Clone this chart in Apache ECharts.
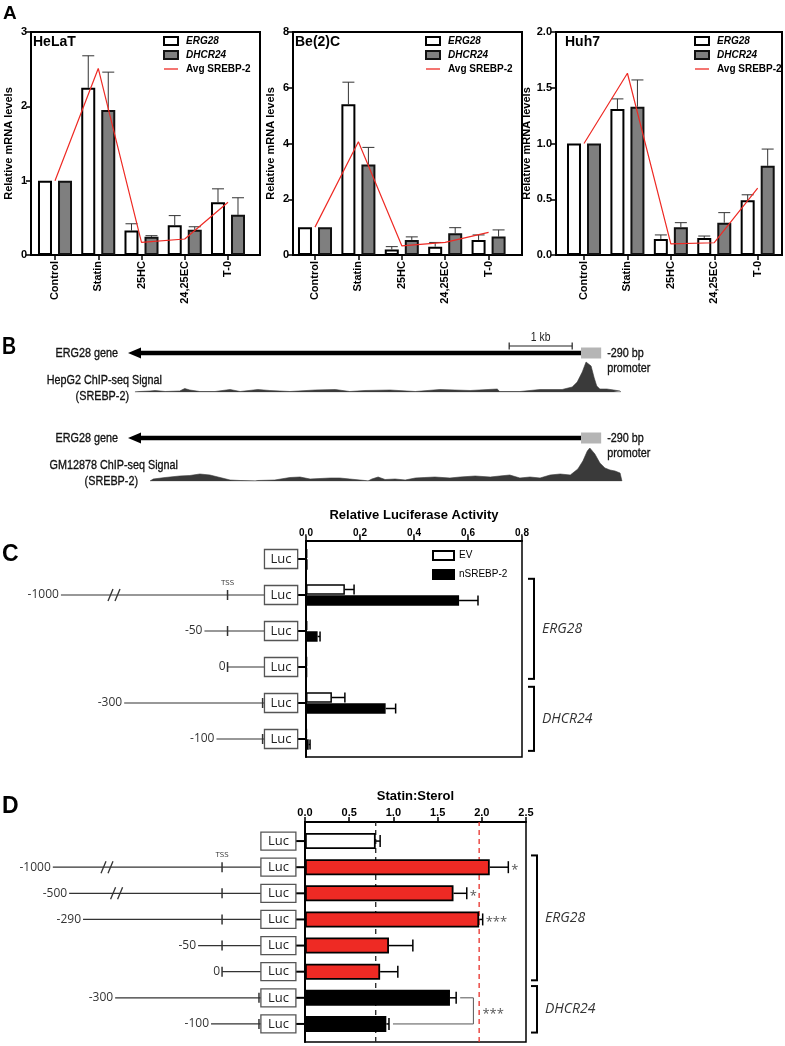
<!DOCTYPE html>
<html><head><meta charset="utf-8">
<script src="https://cdn.jsdelivr.net/npm/echarts@6/dist/echarts.min.js"></script>
<style>html,body{margin:0;padding:0;background:#fff}#c{width:785px;height:1046px}</style>
</head><body><div id="c"></div>
<script>
// ================= DATA =================
// Panel A
const conditions = ['Control', 'Statin', '25HC', '24,25EC', 'T-0'];
const helaErg28 = [1.00, 2.25, 0.33, 0.40, 0.71];
const helaErg28Sem = [0, 0.43, 0.09, 0.13, 0.18];
const helaDhcr24 = [1.00, 1.95, 0.245, 0.34, 0.54];
const helaDhcr24Sem = [0, 0.51, 0.015, 0.04, 0.23];
const helaSrebp2 = [1.00, 2.51, 0.17, 0.215, 0.71];

const be2cErg28 = [1.00, 5.41, 0.20, 0.30, 0.54];
const be2cErg28Sem = [0, 0.79, 0.10, 0.15, 0.18];
const be2cDhcr24 = [1.00, 3.25, 0.54, 0.78, 0.66];
const be2cDhcr24Sem = [0, 0.61, 0.11, 0.20, 0.24];
const be2cSrebp2 = [1.00, 4.06, 0.33, 0.45, 0.81];

const huh7Erg28 = [1.00, 1.31, 0.144, 0.153, 0.49];
const huh7Erg28Sem = [0, 0.09, 0.036, 0.017, 0.05];
const huh7Dhcr24 = [1.00, 1.33, 0.25, 0.29, 0.80];
const huh7Dhcr24Sem = [0, 0.24, 0.04, 0.09, 0.15];
const huh7Srebp2 = [1.00, 1.63, 0.10, 0.11, 0.60];

// Panel B (positions in kb relative to the ERG28 TSS; signal in arbitrary units)
const geneStartKb = -7.19, geneEndKb = 0, promoterEndKb = 0.32;
const scaleBarKb = [-1.14, -0.14];
const hepg2Kb = [-7.08,-7.00,-6.84,-6.76,-6.60,-6.37,-6.29,-6.21,-6.05,-5.81,-5.57,-5.41,-5.13,-4.94,-4.62,-4.22,-3.90,-3.67,-3.43,-3.03,-2.63,-2.24,-1.76,-1.33,-1.29,-0.97,-0.65,-0.30,-0.14,-0.06,0.02,0.08,0.11,0.16,0.21,0.25,0.30,0.41,0.52,0.62,0.63];
const hepg2Signal = [0,0.5,1,1.5,0.5,1,3.5,2,0.5,0.5,2.5,0.5,2.5,1.5,0.5,2,2.5,0.5,1.5,2,0.5,2.5,1.5,3,0.5,0.5,2.5,2.5,5,10,20,30,32,26,14,6,3,3,2,1,0];
const gm12878Kb = [-6.84,-6.79,-6.60,-6.37,-6.21,-6.05,-5.89,-5.73,-5.57,-5.41,-5.17,-5.13,-4.86,-4.62,-4.46,-4.30,-3.98,-3.83,-3.67,-3.43,-3.38,-3.32,-3.22,-3.11,-2.95,-2.79,-2.63,-2.48,-2.32,-2.08,-1.92,-1.68,-1.44,-1.29,-1.13,-0.97,-0.81,-0.65,-0.49,-0.33,-0.17,-0.05,0.03,0.10,0.14,0.22,0.30,0.38,0.46,0.54,0.62,0.65];
const gm12878Signal = [0,2,3.5,5,5.5,7,6,3.5,1,0.5,0,0.5,1,3.5,4,2,3,3,2,0.5,0,2,4,1.5,2,1,3,3.5,4,3,4,5,4,5,6,3,4,3,6,7,6,12,20,30,33,27,18,13,11,10,8,0];

// Panel C (luciferase)
const cRowNames = ['EV', 'ERG28 -1000', 'ERG28 -50', 'ERG28 0', 'DHCR24 -300', 'DHCR24 -100'];
const cLabels = ['', '-1000', '-50', '0', '-300', '-100'];
const lucEV = [0.005, 0.144, 0.005, 0.004, 0.096, 0.003];
const lucEVSem = [0, 0.034, 0, 0, 0.048, 0];
const lucN2 = [0.006, 0.567, 0.043, 0.004, 0.295, 0.010];
const lucN2Sem = [0, 0.070, 0.009, 0, 0.037, 0.005];
const cPromoterBp = [null, -1000, -50, 0, -300, -100];
const cTssBp = [null, -80, -80, -80, -4, -4];
const cDrawnStartBp = [null, -441, null, null, null, null];
const cBreakBp = [null, -326, null, null, null, null];
const cTssLabel = [false, true, false, false, false, false];
const cGroups = [{name: 'ERG28', from: 1, to: 3}, {name: 'DHCR24', from: 4, to: 5}];

// Panel D (statin:sterol)
const dRowNames = ['EV', 'ERG28 -1000', 'ERG28 -500', 'ERG28 -290', 'ERG28 -50', 'ERG28 0', 'DHCR24 -300', 'DHCR24 -100'];
const dLabels = ['', '-1000', '-500', '-290', '-50', '0', '-300', '-100'];
const statinSterol = [0.80, 2.09, 1.68, 1.97, 0.95, 0.85, 1.64, 0.92];
const statinSterolSem = [0.05, 0.21, 0.15, 0.04, 0.27, 0.20, 0.07, 0.03];
const dKind = ['ev', 'erg', 'erg', 'erg', 'erg', 'erg', 'dhcr', 'dhcr'];
const dSignif = ['', '*', '*', '***', '', '', '', ''];
const dPromoterBp = [null, -1000, -500, -290, -50, 0, -300, -100];
const dTssBp = [null, -81, -81, -81, -81, -81, -4, -4];
const dDrawnStartBp = [null, -434, -400, null, null, null, null, null];
const dBreakBp = [null, -321, -301, null, null, null, null, null];
const dTssLabel = [false, true, false, false, false, false, false, false];
const dGroups = [{name: 'ERG28', from: 1, to: 5}, {name: 'DHCR24', from: 6, to: 7}];
const dPair = {from: 6, to: 7, x: 1.905, label: '***'};

// ================= STYLE HELPERS =================
const FONT = "'Liberation Sans', Arial, sans-serif";
const NARROW = "'Liberation Sans Narrow', 'Liberation Sans', sans-serif";
const NARROW_SCALE = 0.8;
const OPEN = "'Open Sans', 'Liberation Sans', sans-serif";
const RED = '#ee2a24';

function ln(x1, y1, x2, y2, stroke, w, dash) {
  return {type: 'line', shape: {x1, y1, x2, y2}, style: {stroke, lineWidth: w, lineDash: dash || null}};
}
function tx(x, y, text, font, fill, align, valign, sx, heavy) {
  const st = {text, font, fill: fill || '#000', align: align || 'left', verticalAlign: valign || 'middle', textAlign: align || 'left', textVerticalAlign: valign || 'middle'};
  if (heavy) { st.stroke = fill || '#000'; st.lineWidth = 0.35; }
  return {type: 'text', x, y, scaleX: sx || 1, style: st};
}

const option = {
  animation: false,
  backgroundColor: '#fff',
  textStyle: {fontFamily: FONT},
  title: [], legend: [], grid: [], xAxis: [], yAxis: [], series: [], graphic: []
};

// ================= PANEL A =================
const aCharts = [
  {title: 'HeLaT', erg: helaErg28, ergSem: helaErg28Sem, dh: helaDhcr24, dhSem: helaDhcr24Sem, avg: helaSrebp2,
   yMax: 3, yInt: 1, dec: 0, left: 31, width: 229, xMin: -0.555, xMax: 4.74, titleLeft: 33, legendLeft: 163, nameGap: 17},
  {title: 'Be(2)C', erg: be2cErg28, ergSem: be2cErg28Sem, dh: be2cDhcr24, dhSem: be2cDhcr24Sem, avg: be2cSrebp2,
   yMax: 8, yInt: 2, dec: 0, left: 293, width: 229, xMin: -0.507, xMax: 4.77, titleLeft: 295, legendLeft: 425, nameGap: 17},
  {title: 'Huh7', erg: huh7Erg28, ergSem: huh7Erg28Sem, dh: huh7Dhcr24, dhSem: huh7Dhcr24Sem, avg: huh7Srebp2,
   yMax: 2, yInt: 0.5, dec: 1, left: 556, width: 226, xMin: -0.645, xMax: 4.56, titleLeft: 565, legendLeft: 694, nameGap: 24}
];
const idx = [0, 1, 2, 3, 4];

function vErr(offset) {
  return function (params, api) {
    const i = api.value(0), m = api.value(1), s = api.value(2);
    if (!s) return null;
    const p0 = api.coord([i, m]), p1 = api.coord([i, m + s]);
    const x = p0[0] + offset;
    return {type: 'group', children: [
      ln(x, p0[1], x, p1[1], '#333', 1),
      ln(x - 6, p1[1], x + 6, p1[1], '#333', 1)
    ]};
  };
}

aCharts.forEach((c, g) => {
  option.grid.push({left: c.left, top: 32, width: c.width, height: 223, show: true, borderColor: '#000', borderWidth: 2, outerBoundsMode: 'none'});
  option.xAxis.push({gridIndex: g, type: 'value', min: c.xMin, max: c.xMax,
    axisLine: {show: true, onZero: false, lineStyle: {color: '#000', width: 2}},
    axisTick: {show: true, customValues: idx, length: 5, lineStyle: {color: '#000', width: 1.5}},
    axisLabel: {show: true, customValues: idx, formatter: v => conditions[Math.round(v)], rotate: 90, fontWeight: 'bold', fontSize: 11, color: '#000', margin: 6, fontFamily: FONT},
    splitLine: {show: false}});
  option.yAxis.push({gridIndex: g, type: 'value', min: 0, max: c.yMax, interval: c.yInt,
    axisLine: {show: true, onZero: false, lineStyle: {color: '#000', width: 2}},
    axisTick: {show: true, length: 5, lineStyle: {color: '#000', width: 1.5}},
    axisLabel: {fontWeight: 'bold', fontSize: 11, color: '#000', margin: 4, fontFamily: FONT, formatter: v => v.toFixed(c.dec)},
    splitLine: {show: false},
    name: 'Relative mRNA levels', nameLocation: 'middle', nameGap: c.nameGap,
    nameTextStyle: {fontWeight: 'bold', fontSize: 11, color: '#000', fontFamily: FONT}});
  option.title.push({text: c.title, left: c.titleLeft, top: 35, padding: 0, textStyle: {fontSize: 14, fontWeight: 'bold', color: '#000', fontFamily: FONT}});
  option.legend.push({left: c.legendLeft, top: 35, orient: 'vertical', padding: 0, itemGap: 2, itemWidth: 14, itemHeight: 8, selectedMode: false,
    textStyle: {fontSize: 10, fontWeight: 'bold', color: '#000', fontFamily: FONT, lineHeight: 12, padding: [0, 0, 0, 3]},
    data: [{name: 'ERG28', icon: 'rect', textStyle: {fontStyle: 'italic'}},
           {name: 'DHCR24', icon: 'rect', textStyle: {fontStyle: 'italic'}},
           {name: 'Avg SREBP-2', icon: 'path://M0,0 H14 V1.3 H0 Z', itemStyle: {color: RED, borderWidth: 0}}]});
  option.series.push(
    {type: 'bar', name: 'ERG28', xAxisIndex: g, yAxisIndex: g, barWidth: 14, barGap: '43%',
     itemStyle: {color: '#fff', borderColor: '#000', borderWidth: 2}, data: c.erg.map((v, i) => [i, v])},
    {type: 'bar', name: 'DHCR24', xAxisIndex: g, yAxisIndex: g, barWidth: 14, barGap: '43%',
     itemStyle: {color: '#7f7f7f', borderColor: '#111', borderWidth: 2}, data: c.dh.map((v, i) => [i, v])},
    {type: 'custom', name: 'errA1_' + g, xAxisIndex: g, yAxisIndex: g, renderItem: vErr(-10), clip: false, z: 1,
     data: c.erg.map((v, i) => [i, v, c.ergSem[i]])},
    {type: 'custom', name: 'errA2_' + g, xAxisIndex: g, yAxisIndex: g, renderItem: vErr(10), clip: false, z: 1,
     data: c.dh.map((v, i) => [i, v, c.dhSem[i]])},
    {type: 'line', name: 'Avg SREBP-2', xAxisIndex: g, yAxisIndex: g, symbol: 'none', z: 5,
     lineStyle: {color: RED, width: 1.2}, itemStyle: {color: RED}, data: c.avg.map((v, i) => [i, v])}
  );
});

// ================= PANEL B =================
const bLeft = 108.5, bWidth = 535.5, bMin = -7.5, bMax = 1.0;
const bRows = [
  {geneTop: 333, sigTop: 352, kb: hepg2Kb, sig: hepg2Signal, scale: true},
  {geneTop: 418, sigTop: 441, kb: gm12878Kb, sig: gm12878Signal, scale: false}
];
function geneRender(withScale) {
  return function (params, api) {
    const y = api.coord([0, 0.5])[1];
    const xTip = api.coord([geneStartKb, 0.5])[0];
    const xEnd = api.coord([geneEndKb, 0.5])[0];
    const xProm = api.coord([promoterEndKb, 0.5])[0];
    const f = '13.5px ' + NARROW;
    const ch = [
      ln(xTip + 10, y, xEnd, y, '#000', 4.5),
      {type: 'polygon', shape: {points: [[xTip, y], [xTip + 13, y - 5.5], [xTip + 13, y + 5.5]]}, style: {fill: '#000'}},
      {type: 'rect', shape: {x: xEnd, y: y - 5.5, width: xProm - xEnd, height: 11}, style: {fill: '#b5b5b5'}},
      tx(xTip - 10, y, 'ERG28 gene', f, '#111', 'right', 'middle', NARROW_SCALE, true),
      tx(xProm + 6, y, '-290 bp', f, '#111', 'left', 'middle', NARROW_SCALE, true),
      tx(xProm + 6, y + 15, 'promoter', f, '#111', 'left', 'middle', NARROW_SCALE, true)
    ];
    if (withScale) {
      const ys = api.coord([0, 0.675])[1];
      const a = api.coord([scaleBarKb[0], 0.675])[0], b = api.coord([scaleBarKb[1], 0.675])[0];
      ch.push(ln(a, ys, b, ys, '#222', 1.2), ln(a, ys - 3.5, a, ys + 3.5, '#222', 1.2), ln(b, ys - 3.5, b, ys + 3.5, '#222', 1.2),
        tx((a + b) / 2, ys - 2, '1 kb', '13px ' + NARROW, '#222', 'center', 'bottom', NARROW_SCALE));
    }
    return {type: 'group', children: ch};
  };
}
bRows.forEach((r, k) => {
  const gGene = option.grid.length;
  option.grid.push({left: bLeft, width: bWidth, top: r.geneTop, height: 40, outerBoundsMode: 'none'});
  option.xAxis.push({gridIndex: gGene, type: 'value', min: bMin, max: bMax, show: false});
  option.yAxis.push({gridIndex: gGene, type: 'value', min: 0, max: 1, show: false});
  option.series.push({type: 'custom', name: 'gene' + k, xAxisIndex: gGene, yAxisIndex: gGene, clip: false,
    renderItem: geneRender(r.scale), data: [[geneStartKb, 0.5]]});
  const gSig = option.grid.length;
  option.grid.push({left: bLeft, width: bWidth, top: r.sigTop, height: 40, outerBoundsMode: 'none'});
  option.xAxis.push({gridIndex: gSig, type: 'value', min: bMin, max: bMax, show: false});
  option.yAxis.push({gridIndex: gSig, type: 'value', min: 0, max: 40, show: false});
  option.series.push(
    {type: 'line', name: 'base' + k, xAxisIndex: gSig, yAxisIndex: gSig, symbol: 'none', z: 1,
     lineStyle: {color: '#9a9a9a', width: 1}, data: [[r.kb[0], 0], [r.kb[r.kb.length - 1], 0]]},
    {type: 'line', name: 'chip' + k, xAxisIndex: gSig, yAxisIndex: gSig, symbol: 'none', z: 2,
     lineStyle: {color: '#3a3a3a', width: 0.6}, areaStyle: {color: '#3a3a3a', opacity: 1},
     data: r.kb.map((x, i) => [x, r.sig[i]])}
  );
});
const bf = '13.5px ' + NARROW;
function gtext(x, y, text) {
  return {type: 'text', x, y, scaleX: NARROW_SCALE, style: {text, font: bf, fill: '#111', stroke: '#111', lineWidth: 0.35, align: 'right', verticalAlign: 'middle'}};
}
option.graphic.push(
  {type: 'text', x: 2, y: 336, scaleX: 0.85, style: {text: 'B', font: 'bold 23px ' + FONT, fill: '#000'}},
  gtext(162, 380, 'HepG2 ChIP-seq Signal'),
  gtext(129, 396, '(SREBP-2)'),
  gtext(178, 465, 'GM12878 ChIP-seq Signal'),
  gtext(138, 481, '(SREBP-2)'),
  {type: 'text', left: 3, top: 4, style: {text: 'A', font: 'bold 19px ' + FONT, fill: '#000'}},
  {type: 'text', left: 2, top: 543, style: {text: 'C', font: 'bold 23px ' + FONT, fill: '#000'}},
  {type: 'text', left: 2, top: 795, style: {text: 'D', font: 'bold 23px ' + FONT, fill: '#000'}}
);

// ================= shared renderers for C / D =================
function constructRenderer(spec) {
  return function (params, api) {
    const i = params.dataIndex;
    const cs = params.coordSys;
    const y = api.coord([0, i])[1];
    const xb0 = api.coord([0, i])[0];
    const xb1 = api.coord([spec.lucLen, i])[0];
    const axisX = cs.x + cs.width;
    const ch = [ln(xb1, y, axisX, y, '#000', 2)];
    if (spec.promoter[i] !== null) {
      const startBp = spec.drawnStart[i] !== null ? spec.drawnStart[i] : spec.tss[i] + spec.promoter[i];
      const xs = api.coord([startBp, i])[0];
      ch.push(ln(xs, y, xb0, y, '#333', 1.2));
      const xt = api.coord([spec.tss[i], i])[0];
      ch.push(ln(xt, y - 5, xt, y + 5, '#333', 1.5));
      if (spec.breaks[i] !== null) {
        const xk = api.coord([spec.breaks[i], i])[0];
        ch.push(ln(xk - 6, y + 6, xk - 1, y - 6, '#333', 1.3), ln(xk + 1, y + 6, xk + 6, y - 6, '#333', 1.3));
      }
      if (spec.tssLabel[i]) ch.push(tx(xt, y - 8, 'TSS', '8px ' + OPEN, '#333', 'center', 'bottom'));
      ch.push(tx(xs - 2, y, spec.labels[i], '12px ' + OPEN, '#333', 'right', 'middle'));
    }
    ch.push({type: 'rect', shape: {x: xb0, y: y - spec.boxH / 2, width: xb1 - xb0, height: spec.boxH}, style: {fill: '#fff', stroke: '#555', lineWidth: 1.3}});
    ch.push(tx((xb0 + xb1) / 2, y, 'Luc', '13px ' + OPEN, '#222', 'center', 'middle'));
    return {type: 'group', children: ch};
  };
}
function bracketRenderer(groups, dx, fontSize) {
  return function (params, api) {
    const gr = groups[params.dataIndex];
    const cs = params.coordSys;
    const band = Math.abs(api.coord([0, 1])[1] - api.coord([0, 0])[1]);
    const top = api.coord([0, gr.from])[1] - 0.45 * band;
    const bot = api.coord([0, gr.to])[1] + 0.33 * band;
    const x = cs.x + dx;
    return {type: 'group', children: [
      ln(x, top, x, bot, '#000', 2),
      ln(x - 6, top, x + 1, top, '#000', 2),
      ln(x - 6, bot, x + 1, bot, '#000', 2),
      tx(x + 8, (top + bot) / 2, gr.name, 'italic ' + fontSize + 'px ' + OPEN, '#333', 'left', 'middle')
    ]};
  };
}
function hErr(offset, cap, w) {
  return function (params, api) {
    const r = api.value(1), m = api.value(0), s = api.value(2);
    if (!s) return null;
    const p0 = api.coord([m, r]), p1 = api.coord([m + s, r]);
    const y = p0[1] + offset;
    return {type: 'group', children: [ln(p0[0], y, p1[0], y, '#000', w), ln(p1[0], y - cap / 2, p1[0], y + cap / 2, '#000', w)]};
  };
}

// ================= PANEL C =================
const gC = option.grid.length;
option.grid.push({left: 306, top: 541, width: 216, height: 216, show: true, borderColor: '#000', borderWidth: 1.5, outerBoundsMode: 'none'});
option.xAxis.push({gridIndex: gC, type: 'value', min: 0, max: 0.8, interval: 0.2, position: 'top',
  axisLine: {show: true, onZero: false, lineStyle: {color: '#000', width: 2}},
  axisTick: {show: true, length: 5, inside: false, lineStyle: {color: '#000', width: 1.5}},
  axisLabel: {fontSize: 10, fontWeight: 'bold', color: '#000', margin: 3, formatter: v => v.toFixed(1), fontFamily: FONT},
  splitLine: {show: false},
  name: 'Relative Luciferase Activity', nameLocation: 'middle', nameGap: 19,
  nameTextStyle: {fontSize: 13, fontWeight: 'bold', color: '#000', fontFamily: FONT}});
option.yAxis.push({gridIndex: gC, type: 'category', data: cRowNames, inverse: true,
  axisLine: {show: true, onZero: false, lineStyle: {color: '#000', width: 2}}, axisTick: {show: false}, axisLabel: {show: false}, splitLine: {show: false}});
option.series.push(
  {type: 'bar', name: 'EV', xAxisIndex: gC, yAxisIndex: gC, barWidth: 10.5, barGap: '5%',
   itemStyle: {color: '#fff', borderColor: '#000', borderWidth: 1.5}, data: lucEV},
  {type: 'bar', name: 'nSREBP-2', xAxisIndex: gC, yAxisIndex: gC, barWidth: 10.5, barGap: '5%',
   itemStyle: {color: '#000', borderColor: '#000', borderWidth: 1.5}, data: lucN2},
  {type: 'custom', name: 'errC1', xAxisIndex: gC, yAxisIndex: gC, clip: false, renderItem: hErr(-5.5, 10, 1.5),
   data: lucEV.map((v, i) => [v, i, lucEVSem[i]])},
  {type: 'custom', name: 'errC2', xAxisIndex: gC, yAxisIndex: gC, clip: false, renderItem: hErr(5.5, 10, 1.5),
   data: lucN2.map((v, i) => [v, i, lucN2Sem[i]])}
);
option.legend.push({left: 432, top: 550, orient: 'vertical', padding: 0, itemGap: 8, itemWidth: 21, itemHeight: 9, selectedMode: false,
  textStyle: {fontSize: 10, color: '#000', fontFamily: FONT},
  data: [{name: 'EV', icon: 'rect'}, {name: 'nSREBP-2', icon: 'rect'}]});
const gCc = option.grid.length;
option.grid.push({left: 6, top: 541, width: 300, height: 216, outerBoundsMode: 'none'});
option.xAxis.push({gridIndex: gCc, type: 'value', min: -560, max: 90, show: false});
option.yAxis.push({gridIndex: gCc, type: 'category', data: cRowNames, inverse: true, show: false});
option.series.push({type: 'custom', name: 'constructsC', xAxisIndex: gCc, yAxisIndex: gCc, clip: false,
  renderItem: constructRenderer({labels: cLabels, promoter: cPromoterBp, tss: cTssBp, drawnStart: cDrawnStartBp, breaks: cBreakBp, tssLabel: cTssLabel, lucLen: 72, boxH: 19}),
  data: cRowNames.map((n, i) => [0, i])});
const gCb = option.grid.length;
option.grid.push({left: 522, top: 541, width: 80, height: 216, outerBoundsMode: 'none'});
option.xAxis.push({gridIndex: gCb, type: 'value', min: 0, max: 1, show: false});
option.yAxis.push({gridIndex: gCb, type: 'category', data: cRowNames, inverse: true, show: false});
option.series.push({type: 'custom', name: 'bracketsC', xAxisIndex: gCb, yAxisIndex: gCb, clip: false,
  renderItem: bracketRenderer(cGroups, 12, 14), data: cGroups.map(g => [0, g.from])});

// ================= PANEL D =================
const gDf = option.grid.length;
option.grid.push({left: 305, top: 822, width: 221, height: 220, show: true, borderColor: '#000', borderWidth: 1.5, outerBoundsMode: 'none'});
option.xAxis.push({gridIndex: gDf, type: 'value', min: 0, max: 2.5, interval: 0.5, position: 'top',
  axisLine: {show: true, onZero: false, lineStyle: {color: '#000', width: 2}},
  axisTick: {show: true, length: 5, lineStyle: {color: '#000', width: 1.5}},
  axisLabel: {fontSize: 11, fontWeight: 'bold', color: '#000', margin: 4, formatter: v => v.toFixed(1), fontFamily: FONT},
  splitLine: {show: false},
  name: 'Statin:Sterol', nameLocation: 'middle', nameGap: 19,
  nameTextStyle: {fontSize: 13, fontWeight: 'bold', color: '#000', fontFamily: FONT}});
option.yAxis.push({gridIndex: gDf, type: 'value', min: 0, max: 1,
  axisLine: {show: true, onZero: false, lineStyle: {color: '#000', width: 2}}, axisTick: {show: false}, axisLabel: {show: false}, splitLine: {show: false}});
option.series.push({type: 'custom', name: 'refLines', xAxisIndex: gDf, yAxisIndex: gDf, clip: false, z: 1,
  renderItem: function (params, api) {
    const v = api.value(0);
    const a = api.coord([v, 0]), b = api.coord([v, 1]);
    return ln(a[0], a[1], b[0], b[1], params.dataIndex === 0 ? '#222' : '#e8302a', 1.3, [5, 4]);
  },
  data: [[statinSterol[0], 0], [statinSterol[3], 0]]});

const gD = option.grid.length;
option.grid.push({left: 305, top: 828, width: 221, height: 209, outerBoundsMode: 'none'});
option.xAxis.push({gridIndex: gD, type: 'value', min: 0, max: 2.5, show: false});
option.yAxis.push({gridIndex: gD, type: 'category', data: dRowNames, inverse: true, show: false});
const kindColor = {ev: '#fff', erg: RED, dhcr: '#000'};
option.series.push(
  {type: 'bar', name: 'Statin:Sterol', xAxisIndex: gD, yAxisIndex: gD, barWidth: 16, z: 3,
   data: statinSterol.map((v, i) => ({value: v, itemStyle: {color: kindColor[dKind[i]], borderColor: '#000', borderWidth: 1.8}}))},
  {type: 'custom', name: 'errD', xAxisIndex: gD, yAxisIndex: gD, clip: false, z: 4, renderItem: hErr(0, 12, 1.5),
   data: statinSterol.map((v, i) => [v, i, statinSterolSem[i]])},
  {type: 'custom', name: 'signifD', xAxisIndex: gD, yAxisIndex: gD, clip: false, z: 4,
   renderItem: function (params, api) {
     const i = params.dataIndex;
     if (!dSignif[i]) return null;
     const p = api.coord([statinSterol[i] + statinSterolSem[i], i]);
     return tx(p[0] + 3, p[1] + 3, dSignif[i], '13px ' + OPEN, '#555', 'left', 'middle');
   },
   data: statinSterol.map((v, i) => [v, i])},
  {type: 'custom', name: 'pairD', xAxisIndex: gD, yAxisIndex: gD, clip: false, z: 4,
   renderItem: function (params, api) {
     const a = dPair.from, b = dPair.to;
     const ea = api.coord([statinSterol[a] + statinSterolSem[a], a]);
     const eb = api.coord([statinSterol[b] + statinSterolSem[b], b]);
     const xb = api.coord([dPair.x, a])[0];
     return {type: 'group', children: [
       ln(ea[0] + 4, ea[1], xb, ea[1], '#555', 1),
       ln(xb, ea[1], xb, eb[1], '#555', 1),
       ln(xb, eb[1], eb[0] + 4, eb[1], '#555', 1),
       tx(xb + 9, (ea[1] + eb[1]) / 2 + 3, dPair.label, '13px ' + OPEN, '#555', 'left', 'middle')
     ]};
   },
   data: [[dPair.x, dPair.from]]}
);
const gDc = option.grid.length;
option.grid.push({left: 2, top: 828, width: 303, height: 209, outerBoundsMode: 'none'});
option.xAxis.push({gridIndex: gDc, type: 'value', min: -540, max: 92, show: false});
option.yAxis.push({gridIndex: gDc, type: 'category', data: dRowNames, inverse: true, show: false});
option.series.push({type: 'custom', name: 'constructsD', xAxisIndex: gDc, yAxisIndex: gDc, clip: false,
  renderItem: constructRenderer({labels: dLabels, promoter: dPromoterBp, tss: dTssBp, drawnStart: dDrawnStartBp, breaks: dBreakBp, tssLabel: dTssLabel, lucLen: 73, boxH: 18}),
  data: dRowNames.map((n, i) => [0, i])});
const gDb = option.grid.length;
option.grid.push({left: 526, top: 828, width: 80, height: 209, outerBoundsMode: 'none'});
option.xAxis.push({gridIndex: gDb, type: 'value', min: 0, max: 1, show: false});
option.yAxis.push({gridIndex: gDb, type: 'category', data: dRowNames, inverse: true, show: false});
option.series.push({type: 'custom', name: 'bracketsD', xAxisIndex: gDb, yAxisIndex: gDb, clip: false,
  renderItem: bracketRenderer(dGroups, 11, 14), data: dGroups.map(g => [0, g.from])});

const chart = echarts.init(document.getElementById('c'), null, {renderer: 'canvas'});
chart.setOption(option);
</script></body></html>
